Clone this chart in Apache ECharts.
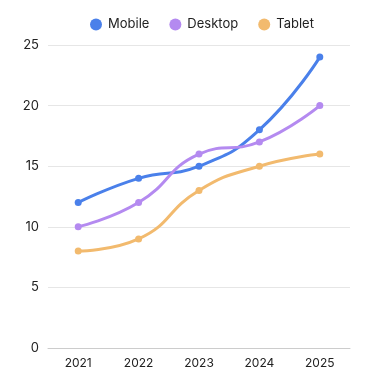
<!DOCTYPE html>
<html>
<head>
<meta charset="utf-8">
<script src="https://cdn.jsdelivr.net/npm/echarts@6/dist/echarts.min.js"></script>
<style>
  html, body { margin: 0; padding: 0; background: #ffffff; }
  #chart { width: 375px; height: 375px; }
</style>
</head>
<body>
<div id="chart"></div>
<script>
const years = ['2021', '2022', '2023', '2024', '2025']
const mobile = [12, 14, 15, 18, 24]
const desktop = [10, 12, 16, 17, 20]
const tablet = [8, 9, 13, 15, 16]

const font = 'Inter, "Noto Sans", sans-serif'
const chart = echarts.init(document.getElementById('chart'), null, { renderer: 'canvas' })

function line(name, data, color) {
  return {
    name,
    type: 'line',
    data,
    smooth: true,
    symbol: 'circle',
    symbolSize: 7,
    lineStyle: { color, width: 3 },
    itemStyle: { color },
  }
}

chart.setOption({
  backgroundColor: '#ffffff',
  textStyle: { fontFamily: font },
  legend: {
    top: 13,
    left: 85,
    icon: 'circle',
    itemWidth: 12,
    itemHeight: 12,
    itemGap: 20,
    textStyle: { color: '#222222', fontSize: 13, fontFamily: font, padding: [0, 0, 0, 1] },
  },
  grid: { top: 45, right: 25, bottom: 27, left: 48 },
  xAxis: {
    type: 'category',
    data: years,
    axisLine: { lineStyle: { color: '#cccccc' } },
    axisTick: { show: false },
    axisLabel: { color: '#222222', fontSize: 12, margin: 9, fontFamily: font },
  },
  yAxis: {
    type: 'value',
    min: 0,
    max: 25,
    interval: 5,
    axisLabel: { color: '#222222', fontSize: 13, margin: 9, fontFamily: font },
    splitLine: { lineStyle: { color: '#e6e6e6' } },
  },
  series: [
    line('Mobile', mobile, '#4a80ea'),
    line('Desktop', desktop, '#b48af0'),
    line('Tablet', tablet, '#f2ba6e'),
  ],
})
</script>
</body>
</html>
